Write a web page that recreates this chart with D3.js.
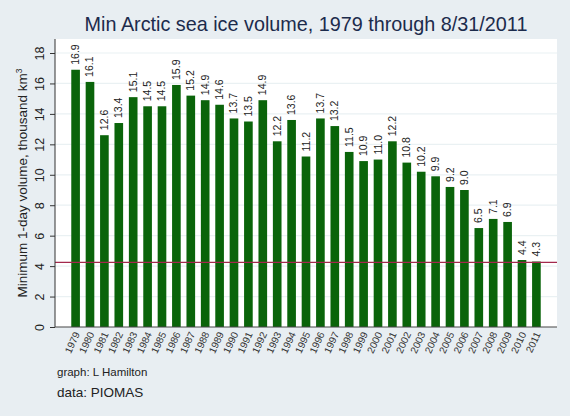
<!DOCTYPE html>
<html>
<head>
<meta charset="utf-8">
<script src="https://cdn.jsdelivr.net/npm/d3@7"></script>
<style>
  body { margin: 0; background: #e8eef2; }
  svg { display: block; font-family: "Liberation Sans", Arial, sans-serif; }
</style>
</head>
<body>
<div class="chart"></div>
<script>
var years = ["1979", "1980", "1981", "1982", "1983", "1984", "1985", "1986", "1987", "1988", "1989",
    "1990", "1991", "1992", "1993", "1994", "1995", "1996", "1997", "1998", "1999", "2000",
    "2001", "2002", "2003", "2004", "2005", "2006", "2007", "2008", "2009", "2010", "2011"];
var volume = [16.9, 16.1, 12.6, 13.4, 15.1, 14.5, 14.5, 15.9, 15.2, 14.9, 14.6,
    13.7, 13.5, 14.9, 12.2, 13.6, 11.2, 13.7, 13.2, 11.5, 10.9, 11.0,
    12.2, 10.8, 10.2, 9.9, 9.2, 9.0, 6.5, 7.1, 6.9, 4.4, 4.3];
var yTicks = [0, 2, 4, 6, 8, 10, 12, 14, 16, 18];
var refLine = 4.3;
var title = "Min Arctic sea ice volume, 1979 through 8/31/2011";
var yTitle = "Minimum 1-day volume, thousand km";
var notes = ["graph:  L Hamilton", "data:  PIOMAS"];

var width = 570, height = 416;
var plot = { left: 55, right: 557, top: 39, bottom: 327 };

var svg = d3.select(".chart")
    .append("svg")
    .attr("width", width)
    .attr("height", height);

svg.append("rect")
    .attr("width", width)
    .attr("height", height)
    .attr("fill", "#e8eef2");

var x = d3.scaleBand()
    .domain(years)
    .range([plot.left, plot.right])
    .paddingInner(0.4)
    .paddingOuter(1.13);

var y = d3.scaleLinear()
    .domain([0, 18.92])
    .range([plot.bottom, plot.top]);

svg.append("rect")
    .attr("x", plot.left)
    .attr("y", plot.top)
    .attr("width", plot.right - plot.left)
    .attr("height", plot.bottom - plot.top)
    .attr("fill", "#ffffff");

// grid
svg.append("g").selectAll("line").data(yTicks.slice(1)).enter().append("line")
    .attr("x1", plot.left)
    .attr("x2", plot.right)
    .attr("y1", function(d) { return y(d); })
    .attr("y2", function(d) { return y(d); })
    .attr("stroke", "#eaf1f3")
    .attr("stroke-width", 1.2);

// bars
svg.append("g").selectAll("rect").data(volume).enter().append("rect")
    .attr("x", function(d, i) { return x(years[i]); })
    .attr("y", function(d) { return y(d); })
    .attr("width", x.bandwidth())
    .attr("height", function(d) { return y(0) - y(d); })
    .attr("fill", "#0a640a");

// value labels
svg.append("g").selectAll("text").data(volume).enter().append("text")
    .attr("transform", function(d, i) {
        return "translate(" + (x(years[i]) + x.bandwidth() / 2 + 3.5) + "," + (y(d) - 5) + ") rotate(-90)";
    })
    .attr("font-size", 10.5)
    .attr("fill", "#222")
    .text(function(d) { return d.toFixed(1); });

// reference line
svg.append("line")
    .attr("x1", plot.left)
    .attr("x2", plot.right)
    .attr("y1", y(refLine) + 0.8)
    .attr("y2", y(refLine) + 0.8)
    .attr("stroke", "#a3284c")
    .attr("stroke-width", 1.2);

// y axis
var yAxis = svg.append("g")
    .attr("transform", "translate(" + plot.left + ",0)")
    .call(d3.axisLeft(y).tickValues(yTicks).tickSize(5).tickPadding(0).tickFormat(d3.format("d")));
yAxis.select(".domain").attr("stroke", "#333").attr("d", "M0," + plot.top + "V" + plot.bottom);
yAxis.selectAll(".tick line").attr("stroke", "#333");
yAxis.selectAll(".tick text")
    .attr("x", null)
    .attr("dy", null)
    .attr("transform", "translate(-11,0) rotate(-90)")
    .attr("text-anchor", "middle")
    .attr("font-size", 12.5)
    .attr("font-family", "Liberation Sans, Arial, sans-serif")
    .attr("fill", "#222");

// x axis
var xAxis = svg.append("g")
    .attr("transform", "translate(0," + plot.bottom + ")")
    .call(d3.axisBottom(x).tickSize(0).tickPadding(0));
xAxis.select(".domain").attr("stroke", "#444").attr("d", "M" + plot.left + ",0H" + plot.right);
xAxis.selectAll(".tick text")
    .attr("y", null)
    .attr("dy", null)
    .attr("transform", "translate(4.5,7) rotate(-65)")
    .attr("text-anchor", "end")
    .attr("font-size", 10)
    .attr("font-family", "Liberation Sans, Arial, sans-serif")
    .attr("fill", "#333");

// titles
svg.append("text")
    .attr("x", (plot.left + plot.right) / 2)
    .attr("y", 31)
    .attr("text-anchor", "middle")
    .attr("font-size", 19.8)
    .attr("fill", "#1c2b4c")
    .text(title);

var yt = svg.append("text")
    .attr("transform", "translate(27," + ((plot.top + plot.bottom) / 2) + ") rotate(-90)")
    .attr("text-anchor", "middle")
    .attr("font-size", 13.5)
    .attr("fill", "#222")
    .text(yTitle);
yt.append("tspan")
    .attr("dy", -5)
    .attr("font-size", 8.5)
    .text("3");

svg.append("g").selectAll("text").data(notes).enter().append("text")
    .attr("x", 57)
    .attr("y", function(d, i) { return i == 0 ? 376 : 397; })
    .attr("font-size", function(d, i) { return i == 0 ? 11.5 : 13.5; })
    .attr("fill", "#222")
    .text(function(d) { return d; });
</script>
</body>
</html>
